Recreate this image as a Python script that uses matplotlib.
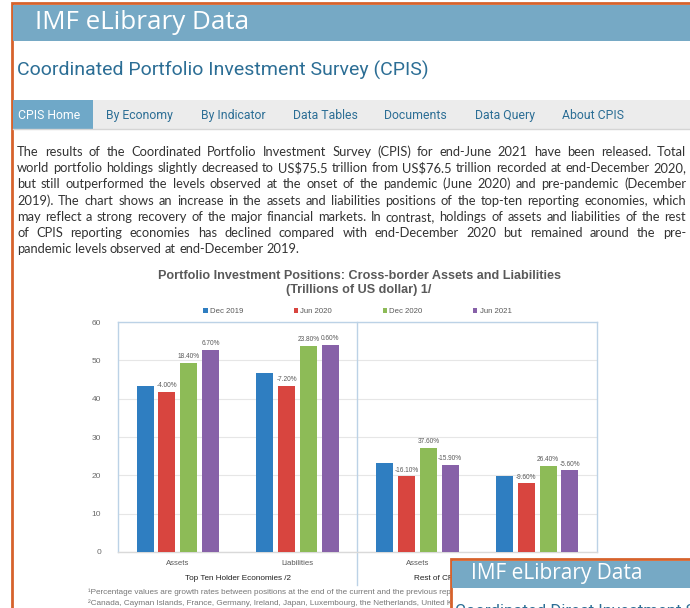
import numpy as np
import matplotlib
matplotlib.use("Agg")
import matplotlib.pyplot as plt
from matplotlib import font_manager
from matplotlib.patches import Rectangle, Patch
from matplotlib.transforms import blended_transform_factory

# ---- chart data (trillions of US dollar) ----
categories = ["Assets", "Liabilities", "Assets", "Liabilities"]
groups = ["Top Ten Holder Economies /2", "Rest of CPIS Reporting Economies"]
series = ["Dec 2019", "Jun 2020", "Dec 2020", "Jun 2021"]
dec2019 = [43.2, 46.7, 23.3, 19.8]
jun2020 = [41.7, 43.4, 19.7, 17.9]
dec2020 = [49.4, 53.8, 27.1, 22.5]
jun2021 = [52.7, 54.0, 22.7, 21.3]
growth_jun2020 = ["-4.00%", "-7.20%", "-16.10%", "-9.60%"]
growth_dec2020 = ["18.40%", "23.80%", "37.60%", "26.40%"]
growth_jun2021 = ["6.70%", "0.60%", "-15.90%", "-5.60%"]
yticks = [0, 10, 20, 30, 40, 50, 60]

nav_items = ["CPIS Home", "By Economy", "By Indicator", "Data Tables",
             "Documents", "Data Query", "About CPIS"]

para_lines = [
    "The results of the Coordinated Portfolio Investment Survey (CPIS) for end-June 2021 have been released. Total",
    "world portfolio holdings slightly decreased to US\\$75.5 trillion from US\\$76.5 trillion recorded at end-December 2020,",
    "but still outperformed the levels observed at the onset of the pandemic (June 2020) and pre-pandemic (December",
    "2019). The chart shows an increase in the assets and liabilities positions of the top-ten reporting economies, which",
    "may reflect a strong recovery of the major financial markets. In contrast, holdings of assets and liabilities of the rest",
    "of CPIS reporting economies has declined compared with end-December 2020 but remained around the pre-",
    "pandemic levels observed at end-December 2019.",
]
footnotes = [
    "\u00b9Percentage values are growth rates between positions at the end of the current and the previous reporting periods.",
    "\u00b2Canada, Cayman Islands, France, Germany, Ireland, Japan, Luxembourg, the Netherlands, United Kingdom, and United States.",
]

W, H = 690, 608
installed = {f.name for f in font_manager.fontManager.ttflist}
narrow = "Liberation Sans Narrow" if "Liberation Sans Narrow" in installed else "Roboto"
arial = "Liberation Sans"
body = "Lato"

orange = "#d6622c"
band = "#76a9c5"
teal = "#2c6e95"
colors = ["#2f7ec1", "#d8453f", "#8dbb57", "#8761a8"]

fig = plt.figure(figsize=(W / 100, H / 100), dpi=100)
fig.patch.set_facecolor("white")
renderer = fig.canvas.get_renderer()


def fit(t, target):
    # scale a text's font size so it spans `target` pixels
    w = t.get_window_extent(renderer).width
    t.set_fontsize(t.get_fontsize() * target / w)
    return t.get_fontsize()


# page background in pixel coordinates
bg = fig.add_axes([0, 0, 1, 1], zorder=0)
bg.set_xlim(0, W)
bg.set_ylim(H, 0)
bg.axis("off")

bg.add_patch(Rectangle((12, 3), W, H, facecolor="white", edgecolor=orange, lw=2))
bg.add_patch(Rectangle((13, 5), W, 36, facecolor=band, edgecolor="none"))
hdr = bg.text(35, 22.5, "IMF eLibrary Data", color="white", fontsize=15, family="Open Sans",
              va="center", ha="left")
fit(hdr, 214)
ttl = bg.text(17, 70, "Coordinated Portfolio Investment Survey (CPIS)", color=teal, fontsize=13.5,
              family=narrow, va="center", ha="left")
title_size = fit(ttl, 410)

# nav bar
bg.add_patch(Rectangle((13, 100), W, 29, facecolor="#ececec", edgecolor="none"))
bg.plot([13, W], [129, 129], color="#d5d5d5", lw=1)
bg.add_patch(Rectangle((13, 100), 80, 29, facecolor="#6fa8c8", edgecolor="none"))
nav_x = [49, 139, 233, 325, 415, 505, 593]
for i, (lab, xx) in enumerate(zip(nav_items, nav_x)):
    bg.text(xx, 119, lab, color="white" if i == 0 else teal, fontsize=8.8,
            family=narrow, ha="center", va="baseline")

# justified paragraph: pick the size at which the longest line just fits
probe = bg.text(0, 0, "", fontsize=8, family=body)
para_size = 99
for line in para_lines:
    probe.set_text(line)
    w = probe.get_window_extent(renderer).width
    para_size = min(para_size, 8.0 * 664 / w)
probe.remove()


def justified_line(line, y, x0, x1, justify=True):
    words = line.split(" ")
    texts = [bg.text(0, y, w, fontsize=para_size, family=body, color="#333333",
                     va="baseline") for w in words]
    widths = [t.get_window_extent(renderer).width for t in texts]
    if justify and len(words) > 1:
        gap = (x1 - x0 - sum(widths)) / (len(words) - 1)
    else:
        sp = bg.text(0, y, "a a", fontsize=para_size, family=body)
        aa = bg.text(0, y, "aa", fontsize=para_size, family=body)
        gap = sp.get_window_extent(renderer).width - aa.get_window_extent(renderer).width
        sp.remove()
        aa.remove()
    xx = x0
    for t, w in zip(texts, widths):
        t.set_x(xx)
        xx += w + gap


for i, line in enumerate(para_lines):
    justified_line(line, 156 + i * 16.2, 17, 686, justify=(i < len(para_lines) - 1))

# ---- the chart ----
ax = fig.add_axes([118 / W, 1 - 552 / H, 479 / W, 230 / H], zorder=2)
x = np.arange(len(categories))
width = 0.142
step = 0.183
all_series = [dec2019, jun2020, dec2020, jun2021]
growths = [None, growth_jun2020, growth_dec2020, growth_jun2021]
for k, (name, vals, col) in enumerate(zip(series, all_series, colors)):
    pos = x + (k - 1.5) * step
    ax.bar(pos, vals, width=width, color=col, zorder=3, label=name)
    if growths[k] is not None:
        for p, v, g in zip(pos, vals, growths[k]):
            ax.annotate(g, (p, v), xytext=(0, 2), textcoords="offset points",
                        ha="center", va="bottom", fontsize=4.7, color="#595959",
                        family=arial)

ax.set_xlim(-0.5, 3.5)
ax.set_ylim(0, 60)
ax.set_yticks(yticks)
ax.yaxis.grid(True, color="#e6e6e6", lw=0.8, zorder=0)
ax.set_axisbelow(True)
ax.tick_params(axis="y", length=0, pad=12, labelsize=6, labelcolor="#6a6a6a")
ax.tick_params(axis="x", length=0, pad=5.5, labelsize=5.6, labelcolor="#595959")
ax.set_xticks(x, categories)
for lab in ax.get_xticklabels() + ax.get_yticklabels():
    lab.set_family(arial)
for s in ax.spines.values():
    s.set_color("#bcd2e6")
    s.set_linewidth(1)
ax.spines["bottom"].set_color("#d9d9d9")
ax.axvline(1.5, ymin=-0.145, ymax=1, color="#bcd2e6", lw=1, clip_on=False)

tr = blended_transform_factory(ax.transData, ax.transAxes)
for gx, g in zip([0.5, 2.5], groups):
    ax.text(gx, -0.115, g, transform=tr, ha="center", va="center", fontsize=5.9,
            color="#222222", family=arial)

handles = [Patch(facecolor=c, edgecolor="none") for c in colors]
leg = ax.legend(handles, series, ncol=4, loc="lower center", bbox_to_anchor=(0.5, 1.015),
                frameon=False, fontsize=5.6, handlelength=0.55, handleheight=0.55,
                handletextpad=0.3, columnspacing=6.5, borderaxespad=0)
for t in leg.get_texts():
    t.set_color("#595959")
    t.set_family(arial)

ct = bg.text(359, 283, "Portfolio Investment Positions: Cross-border Assets and Liabilities\n"
             "(Trillions of US dollar) 1/", ha="center", va="center", fontsize=8.5,
             fontweight="bold", color="#595959", family=arial, linespacing=1.2)
fit(ct, 402)

fprobe = bg.text(88, 0, footnotes[0][:footnotes[0].index("re", 90) + 2], fontsize=5, family=arial)
fn_size = fit(fprobe, 365)
fprobe.remove()
for i, fn in enumerate(footnotes):
    bg.text(88, 592 + i * 11, fn, fontsize=fn_size, color="#777777", family=arial,
            ha="left", va="center")

# ---- overlapping second window (bottom right) ----
top = fig.add_axes([0, 0, 1, 1], zorder=5)
top.set_xlim(0, W)
top.set_ylim(H, 0)
top.axis("off")
top.patch.set_alpha(0)
top.add_patch(Rectangle((451, 559), W, H, facecolor="white", edgecolor=orange, lw=2))
top.add_patch(Rectangle((452, 561), W, 27, facecolor=band, edgecolor="none"))
oh = top.text(471, 574, "IMF eLibrary Data", color="white", fontsize=13.5, family="Open Sans",
              va="center", ha="left")
fit(oh, 172)
top.text(455, 603, "Coordinated Direct Investment Survey (CDIS)", color=teal,
         fontsize=title_size * 0.86, family=narrow, va="top", ha="left")

fig.savefig("out.png", dpi=100)
